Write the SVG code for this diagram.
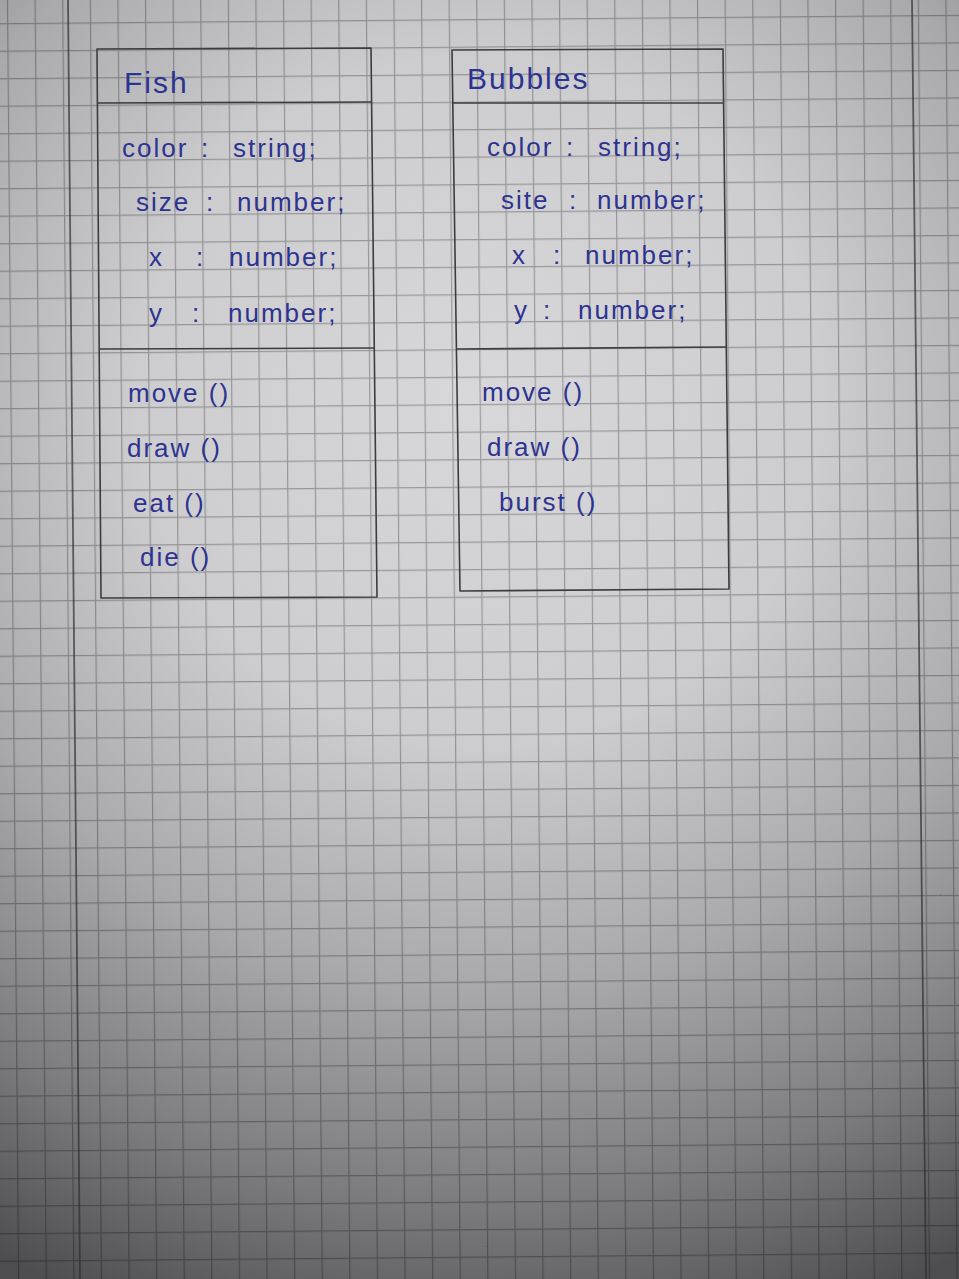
<svg xmlns="http://www.w3.org/2000/svg" width="959" height="1279" viewBox="0 0 959 1279">
<defs>
<radialGradient id="paper" gradientUnits="userSpaceOnUse" cx="480" cy="400" r="980">
<stop offset="0" stop-color="#d8d8da"/>
<stop offset="0.35" stop-color="#cdcdcf"/>
<stop offset="0.6" stop-color="#a9a9ab"/>
<stop offset="0.82" stop-color="#7c7c7e"/>
<stop offset="1" stop-color="#4e4e50"/>
</radialGradient>
<pattern id="grid" patternUnits="userSpaceOnUse" x="12.5" y="19" width="27.6" height="27.5" patternTransform="rotate(-0.5 480 640)">
<path d="M0.6 0V27.5M0 0.6H27.6" fill="none" stroke="#000" stroke-opacity="0.28" stroke-width="1.2"/>
</pattern>
<style>
.box{fill:none;stroke:#3c3c40;stroke-width:1.6;stroke-linejoin:round}
.t{font-family:"Liberation Sans","DejaVu Sans",sans-serif;fill:#2d3390;font-size:26px;letter-spacing:2px}
.title{font-size:30px}
</style>
</defs>
<rect width="959" height="1279" fill="url(#paper)"/>
<rect width="959" height="1279" fill="url(#grid)"/>
<g id="margins" stroke="#2e2e30" stroke-opacity="0.7" stroke-width="1.8">
<line x1="68" y1="0" x2="80" y2="1279"/>
<line x1="912" y1="0" x2="926" y2="1279"/>
</g>
<g id="fish">
<polygon class="box" points="97,49 371,48 377,597 101,598"/>
<line class="box" x1="98" y1="103" x2="372" y2="102"/>
<line class="box" x1="100" y1="349" x2="375" y2="348"/>
<text class="t title" x="124" y="93">Fish</text>
<text class="t" y="157"><tspan x="122">color</tspan><tspan x="201">:</tspan><tspan x="233">string;</tspan></text>
<text class="t" y="211"><tspan x="136">size</tspan><tspan x="206">:</tspan><tspan x="237">number;</tspan></text>
<text class="t" y="266"><tspan x="149">x</tspan><tspan x="196">:</tspan><tspan x="229">number;</tspan></text>
<text class="t" y="322"><tspan x="149">y</tspan><tspan x="192">:</tspan><tspan x="228">number;</tspan></text>
<text class="t" x="128" y="402">move ()</text>
<text class="t" x="127" y="457">draw ()</text>
<text class="t" x="133" y="512">eat ()</text>
<text class="t" x="140" y="566">die ()</text>
</g>
<g id="bubbles">
<polygon class="box" points="452,50 723,49 729,589 460,591"/>
<line class="box" x1="453" y1="103" x2="723" y2="103"/>
<line class="box" x1="456" y1="349" x2="726" y2="347"/>
<text class="t title" x="467" y="89">Bubbles</text>
<text class="t" y="156"><tspan x="487">color</tspan><tspan x="566">:</tspan><tspan x="598">string;</tspan></text>
<text class="t" y="209"><tspan x="501">site</tspan><tspan x="569">:</tspan><tspan x="597">number;</tspan></text>
<text class="t" y="264"><tspan x="512">x</tspan><tspan x="553">:</tspan><tspan x="585">number;</tspan></text>
<text class="t" y="319"><tspan x="514">y</tspan><tspan x="543">:</tspan><tspan x="578">number;</tspan></text>
<text class="t" x="482" y="401">move ()</text>
<text class="t" x="487" y="456">draw ()</text>
<text class="t" x="499" y="511">burst ()</text>
</g>
</svg>
